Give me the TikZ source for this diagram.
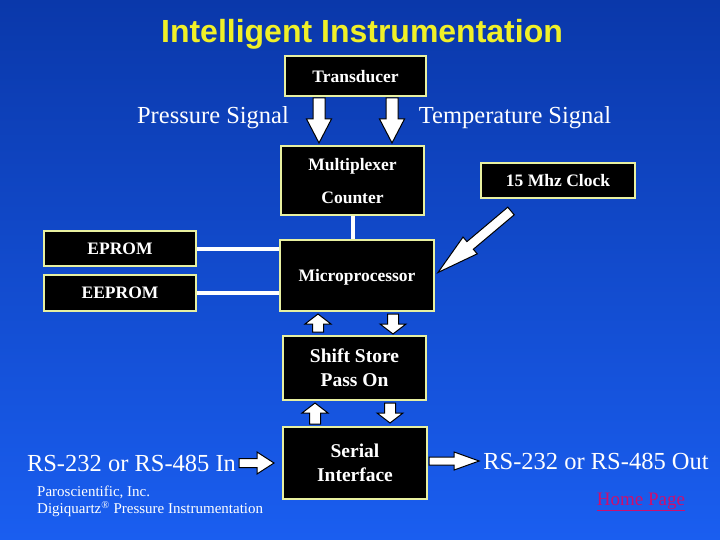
\documentclass[tikz,border=0pt]{standalone}
\usepackage{fontspec}
\setmainfont{Liberation Serif}
\newfontfamily\titlefont{Liberation Sans}
\usetikzlibrary{calc}
\definecolor{bgtop}{RGB}{10,56,170}
\definecolor{bgbot}{RGB}{26,94,240}
\definecolor{boxedge}{RGB}{232,240,160}
\definecolor{titleyellow}{RGB}{240,240,40}
\definecolor{homered}{RGB}{205,15,110}
\newcommand\fsz[1]{\fontsize{#1}{#1}\selectfont}
\newcommand\bkarrow[5]{%
  \coordinate (bas) at (#1);
  \coordinate (bae) at (#2);
  \coordinate (bah) at ($(bae)!#4!(bas)$);
  \draw[arrowshape] ($(bas)!#3!90:(bae)$) -- ($(bah)!#3!90:(bae)$) -- ($(bah)!#5!90:(bae)$) -- (bae)
    -- ($(bah)!#5!-90:(bae)$) -- ($(bah)!#3!-90:(bae)$) -- ($(bas)!#3!-90:(bae)$) -- cycle;
}
\begin{document}
\begin{tikzpicture}[x=1pt,y=-1pt,
  box/.style={draw=boxedge, line width=2pt, fill=black, text=white, font=\fsz{17.5}\bfseries, align=center, inner sep=0pt, text depth=0pt},
  bigbox/.style={box, font=\fsz{19.5}\bfseries, text depth=-11pt},
  lbl/.style={text=white, font=\fsz{24.5}, inner sep=0pt},
  small/.style={text=white, font=\fsz{15}, inner sep=0pt, anchor=west},
  wire/.style={draw=white, line width=4pt},
  arrowshape/.style={draw=black, line width=1pt, fill=white, line join=miter}]
\shade[top color=bgtop, bottom color=bgbot] (0,0) rectangle (720,540);
\useasboundingbox (0,0) rectangle (720,540);

\node[font=\titlefont\fsz{32}\bfseries, text=titleyellow, inner sep=0pt] (title) at (362,34) {Intelligent Instrumentation};

\node[box, minimum width=141pt, minimum height=40pt] (trans) at (355.5,76) {Transducer};
\node[box, minimum width=143pt, minimum height=69pt, text depth=-4pt] (mux) at (352.5,180.5) {Multiplexer\\[15.5pt]Counter};
\node[box, minimum width=154pt, minimum height=35pt] (clock) at (558,180.5) {15 Mhz Clock};
\node[box, minimum width=152pt, minimum height=35pt] (eprom) at (120,248.5) {EPROM};
\node[box, minimum width=152pt, minimum height=36pt] (eeprom) at (120,293) {EEPROM};

\draw[wire] (eprom.east) -- (eprom.east -| 280,0);
\draw[wire] (eeprom.east) -- (eeprom.east -| 280,0);
\draw[wire] (mux.south) -- (352.5,240);

\node[box, minimum width=154pt, minimum height=71pt] (micro) at (357,275.5) {Microprocessor};
\node[bigbox, minimum width=143pt, minimum height=64pt] (shift) at (354.5,368) {Shift Store\\[4.5pt]Pass On};
\node[bigbox, minimum width=144pt, minimum height=72pt] (serial) at (355,463) {Serial\\[4.5pt]Interface};

\node[lbl] (press) at (213,118) {Pressure Signal};
\node[lbl] (temp) at (515,118) {Temperature Signal};
\node[lbl] (rsin) at (131.5,463) {RS-232 or RS-485 In};
\node[lbl] (rsout) at (596,461) {RS-232 or RS-485 Out};

\node[small] (paro) at (37,492) {Paroscientific, Inc.};
\node[small] (digi) at (37,509) {Digiquartz\textsuperscript{®} Pressure Instrumentation};
\node[font=\fsz{19}, text=homered, inner sep=0pt] (home) at (641,502) {\underline{Home Page}};

% block arrows
\bkarrow{$(trans.south)+(-36.5,1)$}{$(trans.south |- mux.north)+(-36.5,-2)$}{6pt}{24pt}{12.5pt}
\bkarrow{$(trans.south)+(36.5,1)$}{$(trans.south |- mux.north)+(36.5,-2)$}{6pt}{24pt}{12.5pt}
\bkarrow{$(shift.north)+(-36.5,-3)$}{$(shift.north |- micro.south)+(-36.5,2)$}{5.5pt}{10pt}{13pt}
\bkarrow{$(shift.north |- micro.south)+(38.5,2)$}{$(shift.north)+(38.5,-1)$}{5.5pt}{10pt}{13pt}
\bkarrow{$(serial.north)+(-40,-2)$}{$(serial.north |- shift.south)+(-40,2)$}{5.5pt}{10pt}{13pt}
\bkarrow{$(serial.north |- shift.south)+(35,2)$}{$(serial.north)+(35,-3)$}{5.5pt}{10pt}{13pt}
\bkarrow{$(clock.south west)+(31,12)$}{$(micro.east)+(3,-3)$}{5pt}{42pt}{11pt}
\bkarrow{$(rsin.east)+(3,0)$}{$(serial.west |- rsin.east)+(-8,0)$}{4.5pt}{17pt}{11pt}
\bkarrow{$(serial.east |- rsout.west)+(1,0)$}{$(rsout.west)+(-4,0)$}{4pt}{25pt}{9pt}
\end{tikzpicture}
\end{document}
